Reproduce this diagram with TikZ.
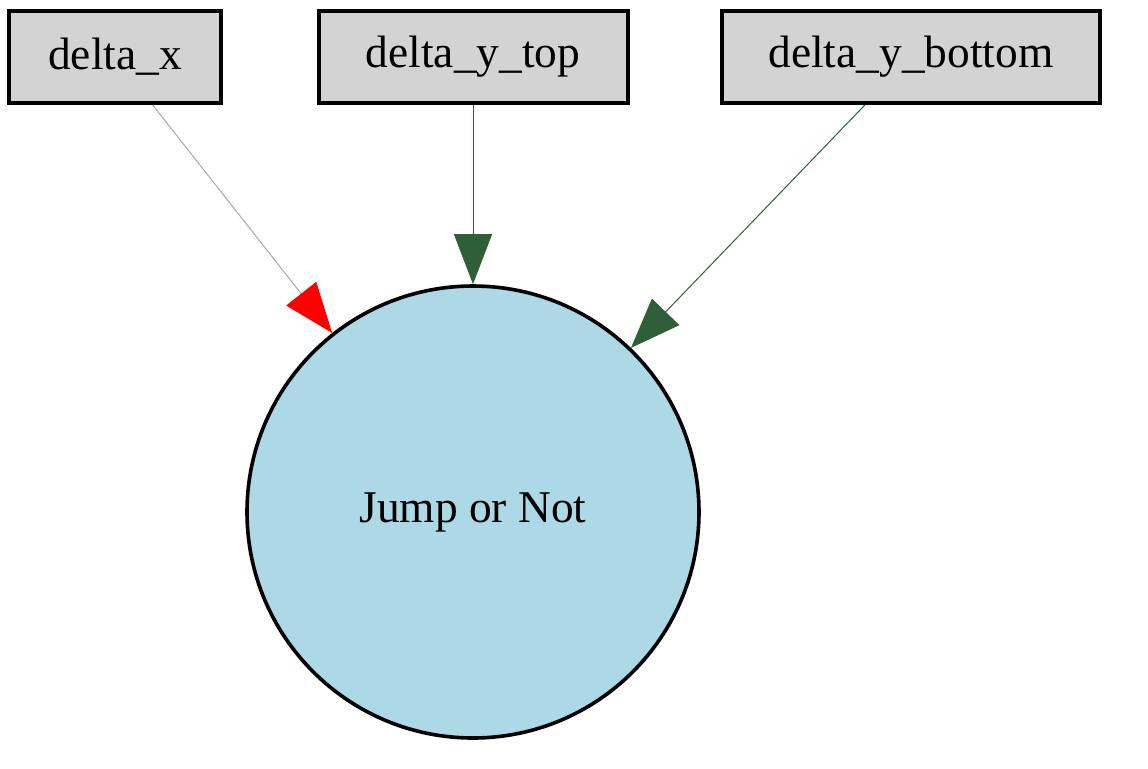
\documentclass[tikz,border=0pt]{standalone}
\usepackage{fontspec}
\setmainfont{Liberation Serif}
\usetikzlibrary{arrows.meta}
\definecolor{boxgray}{HTML}{D3D3D3}
\definecolor{lblue}{HTML}{ADD8E6}
\definecolor{dgreen}{HTML}{2F5F36}
\definecolor{lgray}{HTML}{A8A8A8}
\tikzset{
  inbox/.style={draw=black, line width=2pt, fill=boxgray, rectangle, inner sep=0pt,
    minimum height=46pt, font=\fontsize{22.7}{27}\selectfont},
  outcirc/.style={draw=black, line width=1.8pt, fill=lblue, circle, inner sep=0pt,
    minimum size=226pt, font=\fontsize{22.7}{27}\selectfont},
  greenedge/.style={draw=dgreen, line width=0.5pt, -{Triangle[length=25pt,width=19pt,color=dgreen]}},
  rededge/.style={draw=lgray, line width=0.5pt, -{Triangle[length=25pt,width=19pt,color=red]}}
}
\begin{document}
\begin{tikzpicture}[x=0.5pt,y=-0.5pt]
\useasboundingbox (0,0) rectangle (1148,768);
\node[inbox, minimum width=106pt] (dx) at (115,57) {delta\_x};
\node[inbox, minimum width=154.5pt] (dyt) at (473,57) {delta\_y\_top};
\node[inbox, minimum width=189pt] (dyb) at (911,57) {delta\_y\_bottom};
\node[outcirc] (j) at (473,512) {Jump or Not};
\draw[rededge] (dx) -- (j);
\draw[greenedge] (dyt) -- (j);
\draw[greenedge] (dyb) -- (j);
\end{tikzpicture}
\end{document}
